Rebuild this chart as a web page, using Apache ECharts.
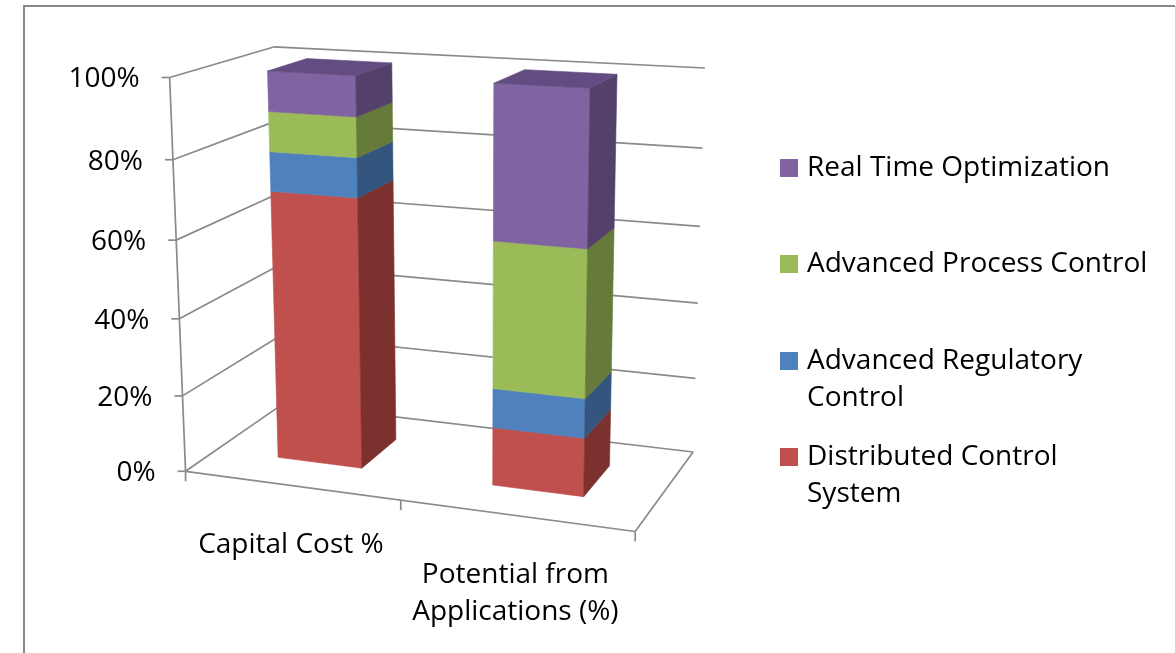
<!DOCTYPE html>
<html>
<head>
<meta charset="utf-8">
<script src="https://cdn.jsdelivr.net/npm/echarts@6/dist/echarts.min.js"></script>
<style>
  html, body { margin: 0; padding: 0; background: #ffffff; }
  #chart { width: 1176px; height: 653px; }
</style>
</head>
<body>
<div id="chart"></div>
<script>
// ---- data ----
const categories = ['Capital Cost %', 'Potential from\nApplications (%)'];
const seriesNames = ['Distributed Control System', 'Advanced Regulatory Control', 'Advanced Process Control', 'Real Time Optimization'];
const dcsValues = [70, 15];
const arcValues = [10, 10];
const apcValues = [10, 37];
const rtoValues = [10, 38];
const valueTicks = [0, 20, 40, 60, 80, 100];
const legendLabels = ['Distributed Control\nSystem', 'Advanced Regulatory\nControl', 'Advanced Process Control', 'Real Time Optimization'];

// ---- styling ----
const FONT = 'Open Sans';
const FONT_SIZE = 28;
const faceColors = [
  { front: '#C0504D', side: '#7D312F', top: '#9C3F3C' },
  { front: '#4F81BD', side: '#34557E', top: '#3F6896' },
  { front: '#9BBB59', side: '#667A3A', top: '#7D9747' },
  { front: '#8064A2', side: '#53416C', top: '#624C81' }
];
const GRID_COLOR = '#8A8A8A';
const BAR_RATIO = 0.4;          // column width as a share of the category band
const Z_FRONT = 0.3, Z_BACK = 0.7;   // column depth inside the floor

// ---- perspective camera for the 3D plot box ----
// unit cube: X across categories, Y along values, Z into the screen (front = 0)
const boxAnchors = [
  [0, 0, 0, 185, 470], [0, 1, 0, 170, 78], [0, 1, 1, 273, 47], [1, 1, 1, 707, 69],
  [1, 0, 1, 692, 451], [1, 0, 0, 636, 530], [1, 1, 0, 643, 103], [0.5, 0, 0, 401, 505],
  [0, 0.2, 0, 183, 395], [0, 0.4, 0, 180, 319], [0, 0.6, 0, 176, 239], [0, 0.8, 0, 173, 160]
];

function fitCamera(pts) {
  const cx = 400, cy = 300, s = 300;
  const rows = [], rhs = [];
  pts.forEach(([X, Y, Z, px, py]) => {
    const x = (px - cx) / s, y = (py - cy) / s;
    rows.push([X, Y, Z, 1, 0, 0, 0, 0, -x * X, -x * Y, -x * Z]); rhs.push(x);
    rows.push([0, 0, 0, 0, X, Y, Z, 1, -y * X, -y * Y, -y * Z]); rhs.push(y);
  });
  const n = 11, M = [];
  for (let i = 0; i < n; i++) M.push(new Array(n + 1).fill(0));
  rows.forEach((r, k) => {
    for (let i = 0; i < n; i++) {
      for (let j = 0; j < n; j++) M[i][j] += r[i] * r[j];
      M[i][n] += r[i] * rhs[k];
    }
  });
  for (let c = 0; c < n; c++) {
    let piv = c;
    for (let r = c + 1; r < n; r++) if (Math.abs(M[r][c]) > Math.abs(M[piv][c])) piv = r;
    const tmp = M[c]; M[c] = M[piv]; M[piv] = tmp;
    for (let r = 0; r < n; r++) {
      if (r === c) continue;
      const f = M[r][c] / M[c][c];
      for (let j = c; j <= n; j++) M[r][j] -= f * M[c][j];
    }
  }
  const p = M.map((row, i) => row[n] / row[i]);
  return (X, Y, Z) => {
    const w = p[8] * X + p[9] * Y + p[10] * Z + 1;
    return [cx + s * (p[0] * X + p[1] * Y + p[2] * Z + p[3]) / w,
            cy + s * (p[4] * X + p[5] * Y + p[6] * Z + p[7]) / w];
  };
}
const project = fitCamera(boxAnchors);

// map a (category, value) pair through the hidden cartesian grid into unit-cube X/Y
function toUnit(params, api, cat, val) {
  const cs = params.coordSys;
  const p = api.coord([cat, val]);
  return [(p[0] - cs.x) / cs.width, (cs.y + cs.height - p[1]) / cs.height];
}

function poly(points, fill) {
  return { type: 'polygon', shape: { points }, style: { fill, stroke: fill, lineWidth: 0.6 } };
}
function seg(a, b) {
  return { type: 'line', shape: { x1: a[0], y1: a[1], x2: b[0], y2: b[1] },
    style: { stroke: GRID_COLOR, lineWidth: 1.7 } };
}

// ---- stacked values ----
const stackValues = [dcsValues, arcValues, apcValues, rtoValues];
const bases = stackValues.map((vals, k) => vals.map((v, i) => {
  let b = 0; for (let j = 0; j < k; j++) b += stackValues[j][i]; return b;
}));
const isTopSeg = stackValues.map((vals, k) => vals.map((v, i) => {
  for (let j = k + 1; j < stackValues.length; j++) if (stackValues[j][i] > 0) return false;
  return true;
}));

function barRenderer(k) {
  return function (params, api) {
    const cat = api.value(0), val = api.value(1), base = api.value(2);
    if (!(val > 0)) return;
    const cs = params.coordSys;
    const [cu, y0] = toUnit(params, api, cat, base);
    const y1 = toUnit(params, api, cat, base + val)[1];
    const half = api.size([1, 0])[0] / cs.width * BAR_RATIO / 2;
    const x0 = cu - half, x1 = cu + half;
    const c = faceColors[k];
    const children = [
      poly([project(x0, y0, Z_FRONT), project(x1, y0, Z_FRONT), project(x1, y1, Z_FRONT), project(x0, y1, Z_FRONT)], c.front),
      poly([project(x1, y0, Z_FRONT), project(x1, y0, Z_BACK), project(x1, y1, Z_BACK), project(x1, y1, Z_FRONT)], c.side)
    ];
    if (isTopSeg[k][cat]) {
      children.push(poly([project(x0, y1, Z_FRONT), project(x1, y1, Z_FRONT), project(x1, y1, Z_BACK), project(x0, y1, Z_BACK)], c.top));
    }
    return { type: 'group', children };
  };
}

function wallRenderer(params, api) {
  const t = api.value(1);
  const y = toUnit(params, api, 0, t)[1];
  const a = project(0, y, 0), b = project(0, y, 1), c = project(1, y, 1);
  const children = [
    seg(a, b), seg(b, c),
    seg([a[0] - 8, a[1]], a),
    { type: 'text', style: { text: t + '%', x: a[0] - 30, y: a[1] + 2, align: 'right', verticalAlign: 'middle',
      font: FONT_SIZE + 'px "' + FONT + '"', fill: '#000000' } }
  ];
  if (t === valueTicks[0]) {
    const n = categories.length;
    children.push(seg(project(0, y, 0), project(1, y, 0)));
    children.push(seg(project(1, y, 1), project(1, y, 0)));
    children.push(seg(project(0, y, 0), project(0, 1, 0)));
    for (let i = 0; i <= n; i++) {
      const p = project(i / n, y, 0);
      children.push(seg(p, [p[0], p[1] + 10]));
    }
  }
  return { type: 'group', children };
}

function categoryLabelRenderer(params, api) {
  const cat = api.value(0);
  const [cu, y] = toUnit(params, api, cat, 0);
  const p = project(cu, y, 0);
  return { type: 'text', style: { text: categories[cat], x: p[0], y: p[1] + 41, align: 'center', verticalAlign: 'top',
    font: FONT_SIZE + 'px "' + FONT + '"', lineHeight: 37, fill: '#000000' } };
}

// ---- legend: one block per entry, in reverse stacking order ----
// wrapped entries get a blank leading line so the swatch sits beside the first line
const legendTops = { 3: 149.5, 2: 245.5, 1: 305.5, 0: 401.5 };
const legends = [3, 2, 1, 0].map(k => {
  const twoLine = legendLabels[k].indexOf('\n') >= 0;
  return {
    data: [seriesNames[k]], left: 780, top: legendTops[k], orient: 'vertical', padding: 0,
    icon: 'rect', itemWidth: 18, itemHeight: 18, selectedMode: false,
    formatter: () => (twoLine ? ' \n' : '') + legendLabels[k],
    textStyle: { fontFamily: FONT, fontSize: FONT_SIZE, lineHeight: 37, color: '#000000', padding: [0, 0, 0, 4] }
  };
});

const chart = echarts.init(document.getElementById('chart'), null, { renderer: 'canvas' });
chart.setOption({
  animation: false,
  backgroundColor: '#ffffff',
  color: faceColors.map(c => c.front),
  grid: { left: 100, top: 100, width: 400, height: 400, show: false },
  xAxis: { type: 'category', data: categories, show: false },
  yAxis: { type: 'value', min: 0, max: 100, interval: 20, show: false },
  legend: legends,
  graphic: [
    { type: 'polyline', shape: { points: [[24, 660], [24, 6], [1175, 6]] }, style: { stroke: '#888888', lineWidth: 2, fill: null }, z: 10 },
    { type: 'line', shape: { x1: 1175.5, y1: 6, x2: 1175.5, y2: 660 }, style: { stroke: '#d6d6d6', lineWidth: 1 }, z: 10 }
  ],
  series: [
    { type: 'custom', name: 'walls', renderItem: wallRenderer, data: valueTicks.map(t => [0, t]), z: 1, silent: true },
    { type: 'custom', name: 'categoryLabels', renderItem: categoryLabelRenderer, data: categories.map((c, i) => [i, 0]), z: 1, silent: true }
  ].concat(seriesNames.map((name, k) => ({
    type: 'custom', name, renderItem: barRenderer(k), z: 2,
    itemStyle: { color: faceColors[k].front },
    encode: { x: 0, y: 1 },
    data: stackValues[k].map((v, i) => [i, v, bases[k][i]])
  })))
});
</script>
</body>
</html>
